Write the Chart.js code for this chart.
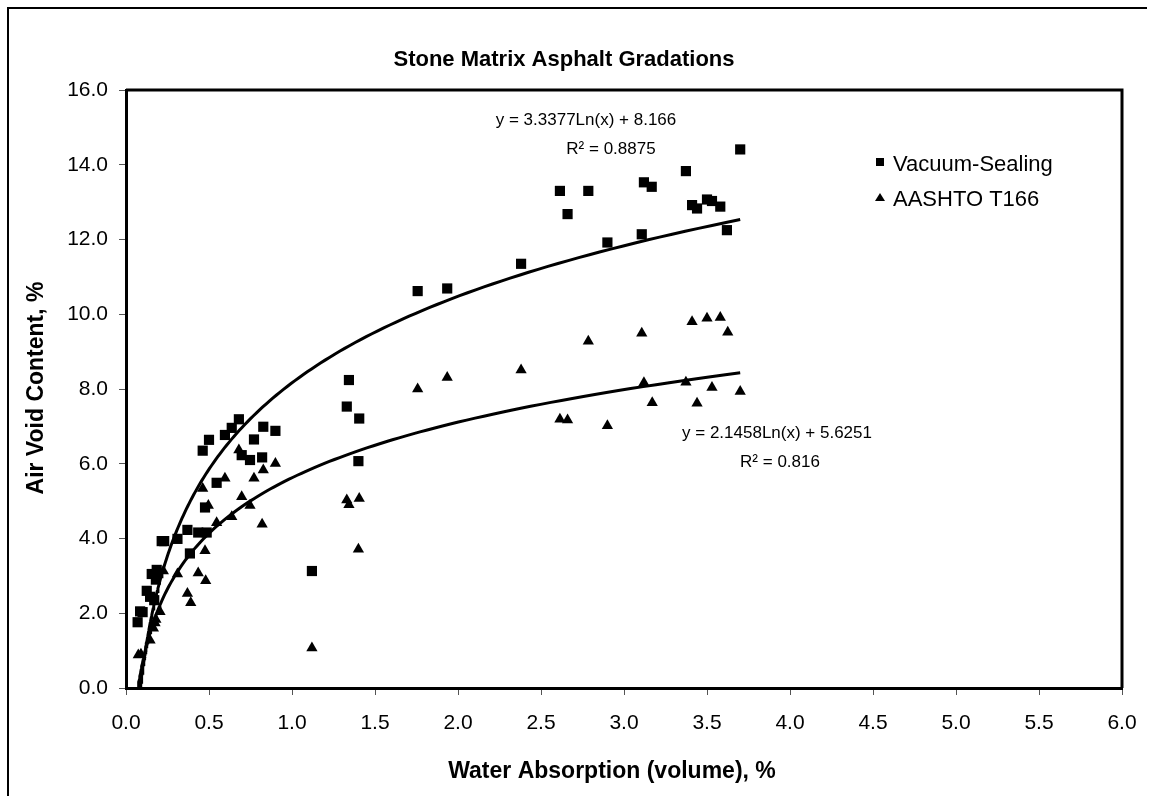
<!DOCTYPE html>
<html>
<head>
<meta charset="utf-8">
<title>Stone Matrix Asphalt Gradations</title>
<script src="https://cdn.jsdelivr.net/npm/chart.js@4.4.1/dist/chart.umd.min.js"></script>
<style>
  html, body { margin: 0; padding: 0; background: #fff; }
  #wrap { position: relative; width: 1156px; height: 796px; }
</style>
</head>
<body>
<div id="wrap"><canvas id="grafico"></canvas></div>
<script>
// -----------------------------
// Datos
// -----------------------------
const vacuumX = [0.07, 0.085, 0.10, 0.125, 0.145, 0.155, 0.17, 0.18, 0.185, 0.215, 0.23, 0.31, 0.37, 0.385, 0.435, 0.486, 0.476, 0.462, 0.50, 0.546,
  0.596, 0.637, 0.68, 0.697, 0.747, 0.771, 0.82, 0.827, 0.90, 1.12, 1.33, 1.343, 1.40, 1.405, 1.757, 1.935, 2.38, 2.614, 2.66, 2.785,
  2.90, 3.107, 3.12, 3.167, 3.373, 3.41, 3.44, 3.50, 3.53, 3.58, 3.62, 3.70];
const vacuumY = [1.76, 2.05, 2.03, 2.60, 2.44, 3.05, 2.35, 2.90, 3.16, 3.93, 3.93, 3.99, 4.23, 3.60, 4.16, 4.16, 4.83, 6.35, 6.64, 5.49,
  6.77, 6.96, 7.19, 6.23, 6.10, 6.65, 6.17, 6.99, 6.88, 3.13, 7.53, 8.24, 6.07, 7.21, 10.62, 10.69, 11.35, 13.30, 12.68, 13.30,
  11.92, 12.14, 13.53, 13.41, 13.83, 12.92, 12.83, 13.07, 13.03, 12.88, 12.25, 14.41];

const aashtoX = [0.074, 0.09, 0.145, 0.165, 0.175, 0.18, 0.205, 0.17, 0.225, 0.31, 0.37, 0.39, 0.435, 0.48, 0.476, 0.496, 0.462, 0.546, 0.596, 0.637,
  0.68, 0.697, 0.747, 0.771, 0.82, 0.827, 0.90, 1.12, 1.33, 1.343, 1.405, 1.40, 1.757, 1.935, 2.38, 2.614, 2.66, 2.785, 2.90, 3.107,
  3.12, 3.17, 3.373, 3.41, 3.44, 3.50, 3.53, 3.58, 3.625, 3.70];
const aashtoY = [0.88, 0.90, 1.28, 1.60, 1.74, 1.83, 2.04, 3.10, 3.13, 3.05, 2.53, 2.28, 3.08, 2.87, 3.67, 4.88, 5.34, 4.42, 5.61, 4.58,
  6.37, 5.12, 4.88, 5.61, 4.38, 5.83, 6.01, 1.07, 5.03, 4.90, 5.07, 3.71, 8.00, 8.31, 8.51, 7.19, 7.17, 9.28, 7.02, 9.49,
  8.17, 7.63, 8.18, 9.80, 7.62, 9.89, 8.04, 9.91, 9.52, 7.93];

// lineas de tendencia y = a*Ln(x) + b (del grafico)
const trendVacuum = [3.3377, 8.166];
const trendAashto = [2.1458, 5.6251];
const trendRange = [0.07, 3.70];

const xTicks = [0, 0.5, 1, 1.5, 2, 2.5, 3, 3.5, 4, 4.5, 5, 5.5, 6];
const yTicks = [0, 2, 4, 6, 8, 10, 12, 14, 16];

const seriesNames = ['Vacuum-Sealing', 'AASHTO T166'];
const eqTexts = [
  ['y = 3.3377Ln(x) + 8.166', 'R\u00B2 = 0.8875'],
  ['y = 2.1458Ln(x) + 5.6251', 'R\u00B2 = 0.816']
];

const FONT = '"Liberation Sans", Arial, Helvetica, sans-serif';

// -----------------------------
// Helpers
// -----------------------------
function puntos(xs, ys) {
  return xs.map((x, i) => ({ x: x, y: ys[i] }));
}
function curvaLog(coef) {
  const x0 = Math.max(trendRange[0], Math.exp(-coef[1] / coef[0]));
  const x1 = trendRange[1];
  const pts = [];
  const n = 160;
  for (let i = 0; i <= n; i++) {
    const x = x0 * Math.pow(x1 / x0, i / n);
    pts.push({ x: x, y: coef[0] * Math.log(x) + coef[1] });
  }
  return pts;
}

// -----------------------------
// Textos, marco y leyenda
// -----------------------------
const decoracion = {
  id: 'decoracion',
  afterDraw(chart) {
    const ctx = chart.ctx;
    const a = chart.chartArea;
    ctx.save();

    // marco exterior
    ctx.strokeStyle = '#000';
    ctx.lineWidth = 2;
    ctx.beginPath();
    ctx.moveTo(8, 796);
    ctx.lineTo(8, 8);
    ctx.lineTo(1147, 8);
    ctx.stroke();

    // borde superior y derecho del area de trazado
    ctx.lineWidth = 3;
    ctx.beginPath();
    ctx.moveTo(a.left, a.top);
    ctx.lineTo(a.right, a.top);
    ctx.lineTo(a.right, a.bottom);
    ctx.stroke();

    ctx.fillStyle = '#000';
    ctx.textBaseline = 'middle';

    // titulo
    ctx.textAlign = 'center';
    ctx.font = 'bold 22px ' + FONT;
    ctx.fillText('Stone Matrix Asphalt Gradations', 564, 60);

    // titulo eje x
    ctx.font = 'bold 23px ' + FONT;
    ctx.fillText('Water Absorption (volume), %', 612, 772);

    // titulo eje y
    ctx.save();
    ctx.translate(37, 388);
    ctx.rotate(-Math.PI / 2);
    ctx.font = 'bold 23px ' + FONT;
    ctx.fillText('Air Void Content, %', 0, 0);
    ctx.restore();

    // ecuaciones
    ctx.font = '17px ' + FONT;
    ctx.textAlign = 'center';
    ctx.fillText(eqTexts[0][0], 586, 120);
    ctx.fillText(eqTexts[0][1], 611, 149);
    ctx.fillText(eqTexts[1][0], 777, 433);
    ctx.fillText(eqTexts[1][1], 780, 462);

    // leyenda
    ctx.font = '22px ' + FONT;
    ctx.textAlign = 'left';
    ctx.fillRect(876, 158, 8, 8);
    ctx.fillText(seriesNames[0], 893, 165);
    ctx.beginPath();
    ctx.moveTo(880, 193);
    ctx.lineTo(885, 201);
    ctx.lineTo(875, 201);
    ctx.closePath();
    ctx.fill();
    ctx.fillText(seriesNames[1], 893, 200);

    ctx.restore();
  }
};

// -----------------------------
// Grafico
// -----------------------------
const ctx = document.getElementById('grafico').getContext('2d');
new Chart(ctx, {
  type: 'scatter',
  data: {
    datasets: [
      { label: seriesNames[0], data: puntos(vacuumX, vacuumY), pointStyle: 'rect', pointRadius: 7.2,
        backgroundColor: '#000', borderColor: '#000', borderWidth: 0 },
      { label: seriesNames[1], data: puntos(aashtoX, aashtoY), pointStyle: 'triangle', pointRadius: 6.5,
        backgroundColor: '#000', borderColor: '#000', borderWidth: 0 },
      { label: 'trend1', data: curvaLog(trendVacuum), showLine: true, pointRadius: 0,
        borderColor: '#000', borderWidth: 3, fill: false },
      { label: 'trend2', data: curvaLog(trendAashto), showLine: true, pointRadius: 0,
        borderColor: '#000', borderWidth: 3, fill: false }
    ]
  },
  options: {
    responsive: true,
    maintainAspectRatio: false,
    animation: false,
    layout: { padding: { left: 0, top: 90, right: 34, bottom: 0 } },
    plugins: {
      legend: { display: false },
      title: { display: false },
      tooltip: { enabled: false }
    },
    scales: {
      x: {
        type: 'linear', min: 0, max: 6,
        afterBuildTicks: s => { s.ticks = xTicks.map(v => ({ value: v })); },
        afterFit: s => { s.height = 108; },
        ticks: { color: '#000', font: { family: FONT, size: 21 }, padding: 16, maxRotation: 0,
          callback: v => Number(v).toFixed(1) },
        grid: { drawOnChartArea: false, drawTicks: true, tickLength: 7, color: '#555', lineWidth: 1 },
        border: { display: true, color: '#000', width: 3 }
      },
      y: {
        type: 'linear', min: 0, max: 16,
        afterBuildTicks: s => { s.ticks = yTicks.map(v => ({ value: v })); },
        afterFit: s => { s.width = 126; },
        ticks: { color: '#000', font: { family: FONT, size: 21 }, padding: 11,
          callback: v => Number(v).toFixed(1) },
        grid: { drawOnChartArea: false, drawTicks: true, tickLength: 7, color: '#555', lineWidth: 1 },
        border: { display: true, color: '#000', width: 3 }
      }
    }
  },
  plugins: [decoracion]
});
</script>
</body>
</html>
